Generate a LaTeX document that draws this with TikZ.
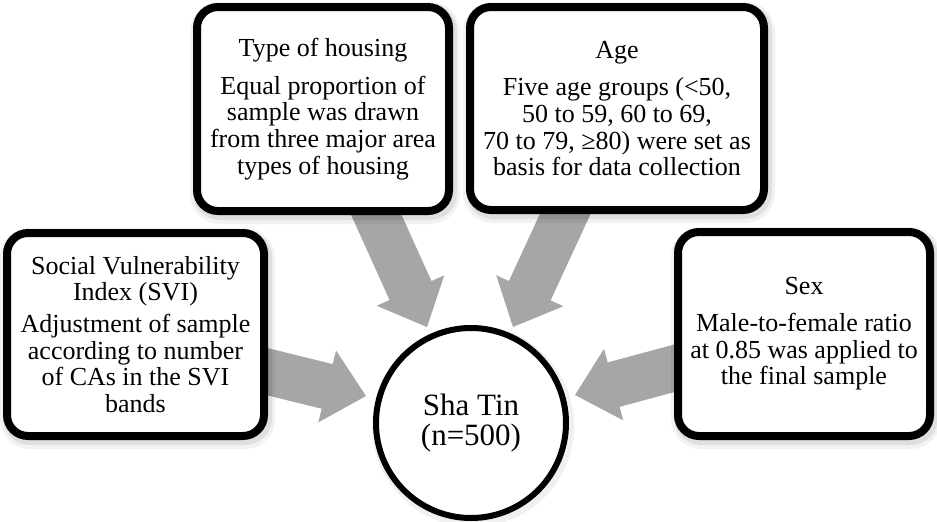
\documentclass[tikz,border=0pt]{standalone}
\usepackage{fontspec}
\setmainfont{Liberation Serif}
\usetikzlibrary{calc,backgrounds}
\definecolor{arrowgray}{HTML}{A6A6A6}
\tikzset{
  boxstyle/.style={draw=black, line width=8pt, rounded corners=21pt, fill=white,
    align=center, inner sep=0pt, font=\fontsize{26}{26.7}\selectfont,
    preaction={draw=black, opacity=0.05, line width=18pt, transform canvas={shift={(2pt,-4pt)}}},
    preaction={draw=black, opacity=0.08, line width=12pt, transform canvas={shift={(2pt,-3pt)}}}},
  hubstyle/.style={circle, draw=black, line width=6pt, fill=white, minimum size=190pt,
    align=center, inner sep=0pt, font=\fontsize{31}{30}\selectfont,
    preaction={draw=black, opacity=0.06, line width=12pt, transform canvas={shift={(2pt,-3pt)}}}},
  arrowfill/.style={fill=arrowgray}
}
\newcommand{\blockarrow}[2]{%
  \coordinate (hb) at ($(#2)!40pt!(#1)$);
  \fill[arrowfill] ($(#1)!23pt!90:(#2)$) -- ($(hb)!23pt!90:(#2)$) -- ($(hb)!37pt!90:(#2)$)
    -- (#2) -- ($(hb)!37pt!-90:(#2)$) -- ($(hb)!23pt!-90:(#2)$) -- ($(#1)!23pt!-90:(#2)$) -- cycle;}
\begin{document}
\begin{tikzpicture}[x=1pt,y=-1pt]
\useasboundingbox (0,0) rectangle (937,522);
\node[boxstyle, minimum width=257pt, minimum height=203pt] (svi) at (135.5,334.5)
  {Social Vulnerability\\Index (SVI)\\[5pt]Adjustment of sample\\according to number\\of CAs in the SVI\\bands};
\node[boxstyle, minimum width=252pt, minimum height=204pt] (housing) at (323,109)
  {Type of housing\\[11pt]Equal proportion of\\sample was drawn\\from three major area\\types of housing};
\node[boxstyle, minimum width=294pt, minimum height=203pt] (age) at (617,108.5)
  {Age\\[11pt]Five age groups (<50,\\50 to 59, 60 to 69,\\70 to 79, ≥80) were set as\\basis for data collection};
\node[boxstyle, minimum width=252pt, minimum height=204pt] (sex) at (804,334)
  {Sex\\[10pt]Male-to-female ratio\\at 0.85 was applied to\\the final sample};
\node[hubstyle] (hub) at (471,423) {Sha Tin\\(n=500)};
\coordinate (a1s) at (361,181); \coordinate (a1t) at (427,327);
\coordinate (a2s) at (580,182); \coordinate (a2t) at (513,327);
\coordinate (a3s) at (220,360); \coordinate (a3t) at (366,396);
\coordinate (a4s) at (720,356); \coordinate (a4t) at (575,395);
\begin{pgfonlayer}{background}
\blockarrow{a1s}{a1t}
\blockarrow{a2s}{a2t}
\blockarrow{a3s}{a3t}
\blockarrow{a4s}{a4t}
\end{pgfonlayer}
\end{tikzpicture}
\end{document}
